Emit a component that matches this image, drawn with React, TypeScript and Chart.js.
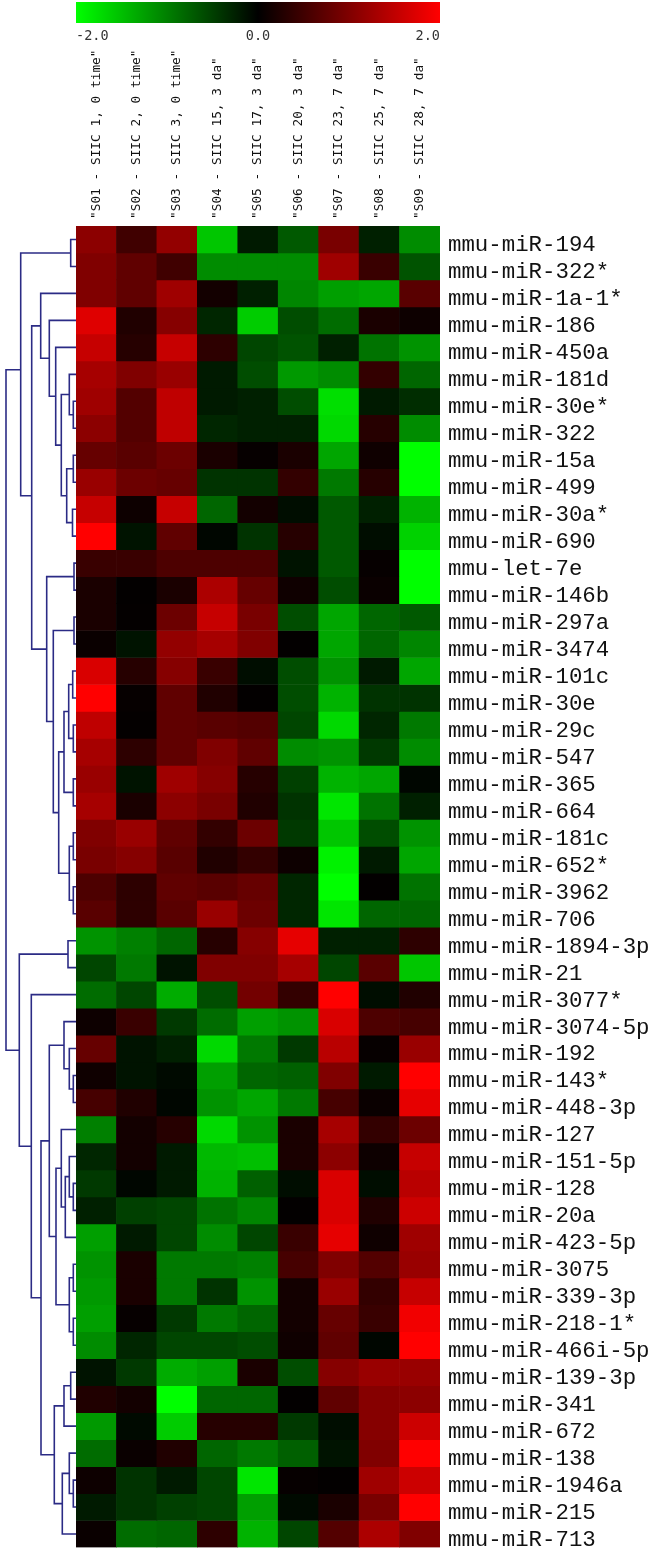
import React, { useEffect, useRef } from "react";
import { Chart, registerables } from "chart.js";

Chart.register(...registerables);

const columnLabels = [
  '"S01 - SIIC 1, 0 time"',
  '"S02 - SIIC 2, 0 time"',
  '"S03 - SIIC 3, 0 time"',
  '"S04 - SIIC 15, 3 da"',
  '"S05 - SIIC 17, 3 da"',
  '"S06 - SIIC 20, 3 da"',
  '"S07 - SIIC 23, 7 da"',
  '"S08 - SIIC 25, 7 da"',
  '"S09 - SIIC 28, 7 da"',
];

const rowLabels = [
  "mmu-miR-194", "mmu-miR-322*", "mmu-miR-1a-1*", "mmu-miR-186", "mmu-miR-450a", "mmu-miR-181d",
  "mmu-miR-30e*", "mmu-miR-322", "mmu-miR-15a", "mmu-miR-499", "mmu-miR-30a*", "mmu-miR-690",
  "mmu-let-7e", "mmu-miR-146b", "mmu-miR-297a", "mmu-miR-3474", "mmu-miR-101c", "mmu-miR-30e",
  "mmu-miR-29c", "mmu-miR-547", "mmu-miR-365", "mmu-miR-664", "mmu-miR-181c", "mmu-miR-652*",
  "mmu-miR-3962", "mmu-miR-706", "mmu-miR-1894-3p", "mmu-miR-21", "mmu-miR-3077*", "mmu-miR-3074-5p",
  "mmu-miR-192", "mmu-miR-143*", "mmu-miR-448-3p", "mmu-miR-127", "mmu-miR-151-5p", "mmu-miR-128",
  "mmu-miR-20a", "mmu-miR-423-5p", "mmu-miR-3075", "mmu-miR-339-3p", "mmu-miR-218-1*", "mmu-miR-466i-5p",
  "mmu-miR-139-3p", "mmu-miR-341", "mmu-miR-672", "mmu-miR-138", "mmu-miR-1946a", "mmu-miR-215", "mmu-miR-713",
];

const expression: number[][] = [
  [1.1, 0.5, 1.15, -1.55, -0.2, -0.7, 0.95, -0.25, -1.1],
  [1.0, 0.75, 0.5, -1.1, -1.1, -1.1, 1.25, 0.45, -0.65],
  [1.0, 0.75, 1.25, 0.15, -0.25, -1.05, -1.25, -1.3, 0.7],
  [1.75, 0.25, 1.05, -0.3, -1.6, -0.6, -0.85, 0.2, 0.1],
  [1.55, 0.3, 1.55, 0.35, -0.55, -0.65, -0.25, -0.9, -1.15],
  [1.3, 1.0, 1.2, -0.2, -0.6, -1.2, -1.1, 0.4, -0.8],
  [1.25, 0.65, 1.5, -0.2, -0.25, -0.6, -1.75, -0.2, -0.35],
  [1.1, 0.65, 1.5, -0.3, -0.25, -0.25, -1.7, 0.3, -1.1],
  [0.8, 0.7, 0.85, 0.2, 0.05, 0.2, -1.3, 0.12, -2.0],
  [1.2, 0.85, 0.8, -0.4, -0.4, 0.4, -0.95, 0.3, -2.0],
  [1.55, 0.1, 1.55, -0.8, 0.15, -0.1, -0.7, -0.25, -1.4],
  [2.0, -0.15, 0.75, -0.05, -0.4, 0.3, -0.7, -0.1, -1.65],
  [0.45, 0.45, 0.6, 0.6, 0.6, -0.15, -0.7, 0.05, -2.0],
  [0.2, 0.02, 0.2, 1.35, 0.8, 0.12, -0.6, 0.08, -2.0],
  [0.2, 0.03, 0.85, 1.55, 0.95, -0.6, -1.3, -0.8, -0.7],
  [0.08, -0.15, 1.15, 1.3, 1.0, 0.02, -1.3, -0.8, -1.05],
  [1.7, 0.3, 1.05, 0.45, -0.1, -0.6, -1.15, -0.2, -1.3],
  [2.0, 0.05, 0.75, 0.25, 0.02, -0.6, -1.4, -0.4, -0.4],
  [1.5, 0.03, 0.75, 0.7, 0.65, -0.55, -1.7, -0.3, -0.95],
  [1.3, 0.35, 0.75, 1.0, 0.75, -1.1, -1.15, -0.45, -1.1],
  [1.2, -0.15, 1.25, 1.05, 0.3, -0.5, -1.4, -1.3, -0.05],
  [1.3, 0.2, 1.1, 0.95, 0.25, -0.4, -1.8, -0.9, -0.25],
  [1.0, 1.2, 0.75, 0.4, 0.85, -0.45, -1.55, -0.6, -1.15],
  [0.95, 1.05, 0.7, 0.25, 0.4, 0.1, -1.9, -0.2, -1.3],
  [0.6, 0.35, 0.75, 0.7, 0.8, -0.3, -2.0, 0.02, -0.9],
  [0.7, 0.35, 0.7, 1.2, 0.85, -0.3, -1.8, -0.8, -0.8],
  [-1.15, -1.0, -0.8, 0.3, 1.05, 1.8, -0.25, -0.25, 0.35],
  [-0.55, -0.95, -0.15, 1.0, 1.0, 1.3, -0.55, 0.7, -1.55],
  [-0.85, -0.55, -1.35, -0.6, 0.9, 0.4, 2.0, -0.1, 0.25],
  [0.1, 0.45, -0.45, -0.85, -1.25, -1.15, 1.7, 0.6, 0.55],
  [0.8, -0.15, -0.25, -1.7, -0.95, -0.45, 1.45, 0.05, 1.2],
  [0.12, -0.15, -0.08, -1.25, -0.8, -0.75, 1.0, -0.2, 2.0],
  [0.55, 0.25, -0.05, -1.15, -1.3, -0.95, 0.55, 0.08, 1.8],
  [-1.0, 0.15, 0.3, -1.7, -1.15, 0.2, 1.3, 0.4, 0.85],
  [-0.3, 0.15, -0.2, -1.45, -1.5, 0.2, 1.1, 0.1, 1.55],
  [-0.45, -0.05, -0.2, -1.4, -0.75, -0.1, 1.7, -0.1, 1.45],
  [-0.25, -0.5, -0.55, -0.9, -1.05, 0.02, 1.7, 0.25, 1.6],
  [-1.25, -0.2, -0.55, -1.1, -0.55, 0.45, 1.8, 0.12, 1.25],
  [-1.15, 0.2, -0.95, -0.95, -1.0, 0.55, 1.0, 0.65, 1.2],
  [-1.2, 0.2, -0.95, -0.4, -1.15, 0.15, 1.2, 0.4, 1.55],
  [-1.25, 0.05, -0.45, -0.95, -0.8, 0.15, 0.8, 0.45, 1.9],
  [-1.1, -0.3, -0.55, -0.55, -0.6, 0.12, 0.75, -0.05, 2.0],
  [-0.15, -0.45, -1.35, -1.25, 0.2, -0.6, 1.05, 1.2, 1.2],
  [0.25, 0.15, -2.0, -0.8, -0.8, 0.02, 0.75, 1.05, 1.1],
  [-1.2, -0.08, -1.6, 0.3, 0.3, -0.45, -0.1, 1.05, 1.6],
  [-0.85, 0.08, 0.25, -0.8, -0.95, -0.75, -0.15, 1.0, 2.0],
  [0.1, -0.4, -0.2, -0.55, -1.8, 0.05, 0.02, 1.25, 1.6],
  [-0.2, -0.4, -0.5, -0.55, -1.25, -0.08, 0.2, 0.95, 2.0],
  [0.08, -0.85, -0.8, 0.35, -1.4, -0.55, 0.65, 1.35, 1.0],
];

// Dendrogram: [merge height, top child, bottom child, optional joint row].
// A child >= 0 is a row index; a negative child -k is merge number k (1-based).
const merges: number[][] = [
  [70.7, 0, 1],
  [73.3, 6, 7],
  [69.3, 5, -2],
  [73.3, 8, 9],
  [72.5, 10, 11],
  [66.7, -4, -5],
  [61.3, -3, -6],
  [55.7, 4, -7],
  [49.3, 3, -8],
  [40.7, 2, -9],
  [74, 12, 13],
  [74, 14, 15],
  [72.7, 16, 17],
  [73.3, 18, 19],
  [68.7, -13, -14],
  [73.3, 20, 21],
  [64, -15, -16],
  [73.3, 22, 23],
  [73.3, 24, 25],
  [69.3, -18, -19],
  [58.7, -17, -20],
  [53.3, -12, -21],
  [46.7, -11, -22],
  [31.7, -10, -23, 10.0],
  [20.7, -1, -24, 5.33],
  [68, 26, 27],
  [73.3, 31, 32],
  [69.3, 30, -27],
  [64, 29, -28],
  [73.3, 35, 36],
  [69.3, 34, -30],
  [65.3, -31, 37],
  [61.3, 33, -32],
  [73.3, 38, 39],
  [73.3, 40, 41],
  [69.3, -34, -35],
  [56, -33, -36],
  [49.3, -29, -37],
  [70.7, 42, 43],
  [64, -39, 44],
  [73.3, 46, 47],
  [69.3, 45, -41],
  [62.3, -42, 48],
  [54.3, -40, -43],
  [41, -38, -44],
  [31.3, 28, -45],
  [19.3, -26, -46],
  [6, -25, -47],
];

const colorbarRange = [-2, 2];
const colorbarStep = 2;
const leafHeight = 76;

const PAGE_W = 654;
const PAGE_H = 1552;
const HEAT_LEFT = 76;
const HEAT_TOP = 226;
const HEAT_BOTTOM = 1547.5;
const HEAT_RIGHT = 440;
const FG = "#111111";
const TREE = "#2b2b85";

function cellColor(v: number): string {
  const level = Math.round((Math.min(Math.abs(v), 2) / 2) * 255);
  return v >= 0 ? `rgb(${level},0,0)` : `rgb(0,${level},0)`;
}

function elbowSegments() {
  const nodes: { x: number; y: number }[] = [];
  const child = (c: number) => (c >= 0 ? { x: leafHeight, y: c + 0.5 } : nodes[-c - 1]);
  return merges.map((m) => {
    const a = child(m[1]);
    const b = child(m[2]);
    nodes.push({ x: m[0], y: m.length > 3 ? m[3] : (a.y + b.y) / 2 });
    return [
      { x: a.x, y: a.y },
      { x: m[0], y: a.y },
      { x: m[0], y: b.y },
      { x: b.x, y: b.y },
    ];
  });
}

const canvasStyle: React.CSSProperties = { position: "absolute", left: 0, top: 0, display: "block" };
const hiddenGrid = { display: false, drawTicks: false };

export default function App() {
  const heatRef = useRef<HTMLCanvasElement>(null);
  const treeRef = useRef<HTMLCanvasElement>(null);
  const barRef = useRef<HTMLCanvasElement>(null);

  useEffect(() => {
    document.body.style.margin = "0";
    document.body.style.background = "#fff";

    const heat = new Chart(heatRef.current!, {
      type: "bar",
      data: {
        labels: columnLabels,
        datasets: expression.map((row, i) => ({
          label: rowLabels[i],
          data: row.map(() => 1),
          backgroundColor: row.map(cellColor),
          borderWidth: 0,
          barPercentage: 1,
          categoryPercentage: 1,
        })),
      },
      options: {
        responsive: false,
        animation: false,
        layout: { padding: { left: HEAT_LEFT, right: 0, top: 0, bottom: PAGE_H - HEAT_BOTTOM } },
        plugins: { legend: { display: false }, tooltip: { enabled: false } },
        scales: {
          x: {
            position: "top",
            stacked: true,
            grid: hiddenGrid,
            border: { display: false },
            ticks: {
              autoSkip: false,
              minRotation: 90,
              maxRotation: 90,
              padding: 7,
              color: FG,
              font: { family: "'DejaVu Sans Mono', monospace", size: 12.8, lineHeight: 0 },
            },
            afterFit: (s: any) => {
              s.height = HEAT_TOP;
              s.paddingLeft = 0;
              s.paddingRight = 0;
            },
          },
          y: {
            position: "right",
            stacked: true,
            reverse: true,
            min: 0,
            max: rowLabels.length,
            grid: hiddenGrid,
            border: { display: false },
            afterBuildTicks: (s: any) => {
              s.ticks = rowLabels.map((_, i) => ({ value: i + 0.5 }));
            },
            ticks: {
              autoSkip: false,
              padding: 8,
              labelOffset: 6,
              color: FG,
              font: { family: "'Liberation Mono', monospace", size: 22.4 },
              callback: (_v: any, i: number) => rowLabels[i],
            },
            afterFit: (s: any) => {
              s.width = PAGE_W - HEAT_RIGHT;
              s.paddingTop = 0;
              s.paddingBottom = 0;
            },
          },
        },
      },
    } as any);

    const tree = new Chart(treeRef.current!, {
      type: "line",
      data: {
        datasets: elbowSegments().map((pts) => ({
          data: pts,
          borderColor: TREE,
          borderWidth: 1.6,
          pointRadius: 0,
          tension: 0,
          fill: false,
        })),
      },
      options: {
        responsive: false,
        animation: false,
        parsing: false,
        layout: { padding: { left: 0, right: 0, top: HEAT_TOP, bottom: PAGE_H - HEAT_BOTTOM } },
        plugins: { legend: { display: false }, tooltip: { enabled: false } },
        scales: {
          x: { type: "linear", display: false, min: 0, max: HEAT_LEFT },
          y: { type: "linear", display: false, reverse: true, min: 0, max: rowLabels.length },
        },
      },
    } as any);

    const bar = new Chart(barRef.current!, {
      type: "bar",
      data: {
        labels: ["scale"],
        datasets: [
          {
            data: [colorbarRange],
            barPercentage: 1,
            categoryPercentage: 1,
            borderWidth: 0,
            backgroundColor: (c: any) => {
              const area = c.chart.chartArea;
              if (!area) return "#000";
              const g = c.chart.ctx.createLinearGradient(area.left, 0, area.right, 0);
              g.addColorStop(0, cellColor(colorbarRange[0]));
              g.addColorStop(0.5, cellColor(0));
              g.addColorStop(1, cellColor(colorbarRange[1]));
              return g;
            },
          },
        ],
      },
      options: {
        indexAxis: "y",
        responsive: false,
        animation: false,
        layout: { padding: { left: HEAT_LEFT, right: PAGE_W - HEAT_RIGHT, top: 2, bottom: 0 } },
        plugins: { legend: { display: false }, tooltip: { enabled: false } },
        scales: {
          y: { display: false },
          x: {
            type: "linear",
            min: colorbarRange[0],
            max: colorbarRange[1],
            grid: hiddenGrid,
            border: { display: false },
            ticks: {
              stepSize: colorbarStep,
              align: "inner",
              padding: 5,
              maxRotation: 0,
              color: "#333333",
              font: { family: "'DejaVu Sans Mono', monospace", size: 13.5 },
              callback: (v: any) => Number(v).toFixed(1),
            },
            afterFit: (s: any) => {
              s.height = 23;
            },
          },
        },
      },
    } as any);

    return () => {
      heat.destroy();
      tree.destroy();
      bar.destroy();
    };
  }, []);

  return (
    <div style={{ position: "absolute", left: 0, top: 0, width: PAGE_W, height: PAGE_H, overflow: "hidden" }}>
      <canvas ref={heatRef} width={PAGE_W} height={PAGE_H} style={canvasStyle} />
      <canvas ref={treeRef} width={HEAT_LEFT} height={PAGE_H} style={canvasStyle} />
      <canvas ref={barRef} width={PAGE_W} height={46} style={canvasStyle} />
    </div>
  );
}
